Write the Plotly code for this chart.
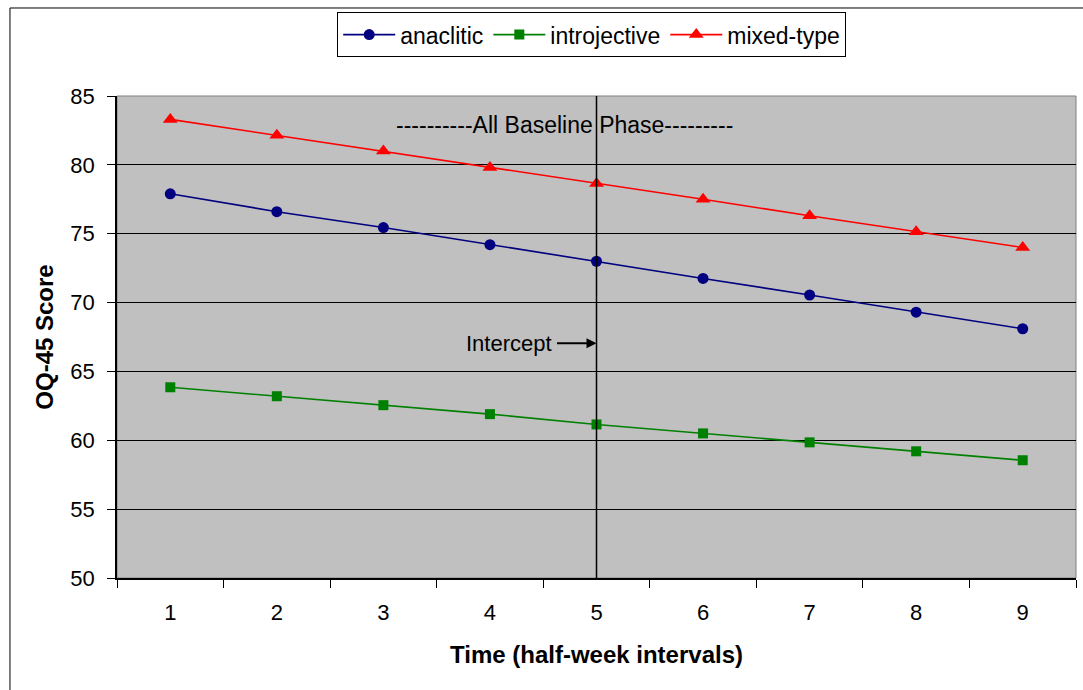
import plotly.graph_objects as go

time_labels = ["1", "2", "3", "4", "5", "6", "7", "8", "9"]
anaclitic = [77.9, 76.6, 75.45, 74.2, 73.0, 71.75, 70.55, 69.3, 68.1]
introjective = [63.85, 63.2, 62.55, 61.9, 61.15, 60.5, 59.85, 59.2, 58.55]
mixed_type = [83.3, 82.15, 81.0, 79.8, 78.65, 77.5, 76.3, 75.15, 74.0]
y_ticks = [50, 55, 60, 65, 70, 75, 80, 85]
intercept_time = "5"
intercept_label_y = 67.05

FONT = "Liberation Sans, Arial, sans-serif"
FS = 22

fig = go.Figure()
fig.add_trace(go.Scatter(x=time_labels, y=anaclitic, name="anaclitic", mode="lines+markers",
                         line=dict(color="#000080", width=1.6),
                         marker=dict(symbol="circle", size=11, color="#000080")))
fig.add_trace(go.Scatter(x=time_labels, y=introjective, name="introjective", mode="lines+markers",
                         line=dict(color="#008000", width=1.6),
                         marker=dict(symbol="square", size=10, color="#008000")))
fig.add_trace(go.Scatter(x=time_labels, y=mixed_type, name="mixed-type", mode="lines+markers",
                         line=dict(color="#FF0000", width=1.6),
                         marker=dict(symbol="triangle-up", size=13, color="#FF0000")))

idx = time_labels.index(intercept_time)

shapes = [
    # outer chart frame
    dict(type="rect", xref="paper", yref="paper", x0=-0.1116, x1=1.2, y0=-0.4, y1=1.1826,
         line=dict(color="black", width=1), fillcolor="rgba(0,0,0,0)", layer="below"),
    # plot area border
    dict(type="rect", xref="paper", yref="paper", x0=0, x1=1, y0=0, y1=1,
         line=dict(color="#808080", width=1), fillcolor="rgba(0,0,0,0)", layer="below"),
    # intercept vertical line
    dict(type="line", xref="x", yref="paper", x0=idx, x1=idx, y0=0, y1=1,
         line=dict(color="black", width=1.5)),
]

annotations = [
    dict(text="----------All Baseline Phase---------", xref="paper", yref="y",
         x=0.467, y=82.9, showarrow=False, font=dict(family=FONT, size=23, color="black")),
    dict(text="Intercept", xref="x", yref="y", x=idx, y=intercept_label_y,
         ax=-88, ay=0, showarrow=True, arrowhead=2, arrowsize=1, arrowwidth=2,
         arrowcolor="black", standoff=0, borderpad=5,
         font=dict(family=FONT, size=FS, color="black")),
]

fig.update_layout(
    width=1083, height=690,
    margin=dict(l=117, r=7, t=96, b=112),
    paper_bgcolor="white",
    plot_bgcolor="#C0C0C0",
    font=dict(family=FONT, size=FS, color="black"),
    shapes=shapes,
    annotations=annotations,
    showlegend=True,
    legend=dict(orientation="h", x=0.495, xanchor="center", y=1.174, yanchor="top",
                bgcolor="white", bordercolor="black", borderwidth=1,
                font=dict(family=FONT, size=23, color="black"),
                itemwidth=52, tracegroupgap=0),
    xaxis=dict(type="category", range=[-0.5, 8.5], tickson="boundaries", ticks="outside",
               ticklen=8, tickcolor="black", showgrid=False, showline=True,
               linecolor="black", linewidth=1.5, zeroline=False,
               ticklabelstandoff=14,
               tickfont=dict(family=FONT, size=FS),
               title=dict(text="<b>Time (half-week intervals)</b>", font=dict(family=FONT, size=24), standoff=22)),
    yaxis=dict(range=[50, 85], tickvals=y_ticks, ticks="outside", ticklen=8, tickcolor="black",
               showgrid=True, gridcolor="black", gridwidth=1, showline=True,
               linecolor="black", linewidth=1.5, zeroline=False,
               ticklabelstandoff=8,
               tickfont=dict(family=FONT, size=FS),
               title=dict(text="<b>OQ-45 Score</b>", font=dict(family=FONT, size=24), standoff=10)),
)

fig.write_html("out.html")
